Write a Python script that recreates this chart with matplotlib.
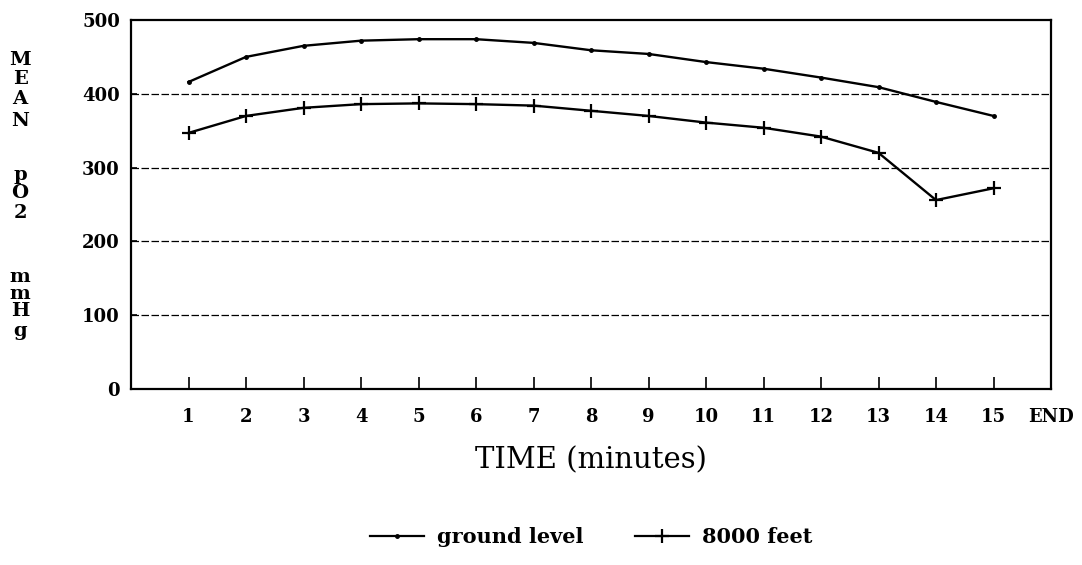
import matplotlib
matplotlib.use("Agg")
import matplotlib.pyplot as plt
from matplotlib.lines import Line2D

minutes = list(range(1, 16))
ground_level = [416, 450, 465, 472, 474, 474, 469, 459, 454, 443, 434, 422, 409, 389, 370]
feet_8000 = [347, 370, 381, 386, 387, 386, 384, 377, 370, 361, 354, 342, 320, 256, 272]
x_ticks = list(range(1, 17))
x_tick_labels = [str(m) for m in range(1, 16)] + ["END"]
y_ticks = [0, 100, 200, 300, 400, 500]

FONT = "DejaVu Serif"

fig = plt.figure(figsize=(10.82, 5.65), dpi=100)
ax = fig.add_axes([131 / 1082, 1 - 389 / 565, (1051 - 131) / 1082, (389 - 20) / 565])

ax.plot(minutes, ground_level, color="black", lw=1.7, marker="o", ms=2.5)
ax.plot(minutes, feet_8000, color="black", lw=1.7, marker="+", ms=10, mew=1.6)

ax.set_xlim(0, 16)
ax.set_ylim(0, 500)
ax.set_xticks(x_ticks)
ax.set_xticklabels(x_tick_labels)
ax.set_yticks(y_ticks)
for lab in ax.get_xticklabels() + ax.get_yticklabels():
    lab.set_fontfamily(FONT)
    lab.set_fontweight("bold")
    lab.set_fontsize(13)
ax.tick_params(axis="x", direction="in", length=9, width=1.2, pad=14)
ax.tick_params(axis="y", direction="in", length=4, width=1.2, pad=8)
for y in [100, 200, 300, 400]:
    ax.axhline(y, color="black", lw=0.9, ls=(0, (6, 2)))
for s in ax.spines.values():
    s.set_linewidth(1.6)

ax.set_xlabel("TIME (minutes)", fontfamily=FONT, fontsize=21, labelpad=14)

letters = ["M", "E", "A", "N", "p", "O", "2", "m", "m", "H", "g"]
letter_y = [60, 79, 99, 121, 175, 193, 213, 277, 294, 311, 331]
for ch, yy in zip(letters, letter_y):
    fig.text(20 / 1082, 1 - yy / 565, ch, ha="center", va="center",
             fontfamily=FONT, fontweight="bold", fontsize=14)

handles = [
    Line2D([], [], color="black", lw=1.6, marker="o", ms=2.5),
    Line2D([], [], color="black", lw=1.6, marker="+", ms=10, mew=1.6),
]
fig.legend(handles, ["ground level", "8000 feet"], loc="center",
           bbox_to_anchor=(591 / 1082, 1 - 537 / 565), ncol=2, frameon=False,
           prop={"family": FONT, "weight": "bold", "size": 15},
           handlelength=2.6, columnspacing=2.5, handletextpad=0.6)

fig.savefig("out.png", dpi=100)
